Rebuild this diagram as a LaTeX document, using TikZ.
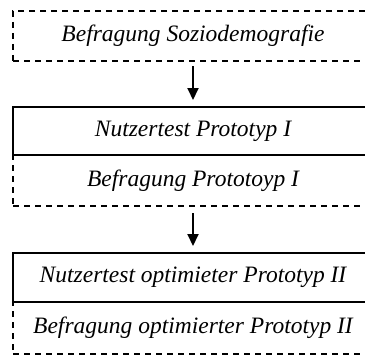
\documentclass[tikz,border=0pt]{standalone}
\usepackage{fontspec}
\setmainfont{Liberation Serif}
\usetikzlibrary{arrows.meta}
\begin{document}
\begin{tikzpicture}[x=1pt,y=-1pt,
  stage/.style={minimum width=360pt, inner sep=0pt, line width=2pt,
    font=\itshape\fontsize{23.5}{26}\selectfont},
  survey/.style={stage, draw, dash pattern=on 6pt off 5pt},
  usertest/.style={stage, draw},
  flow/.style={line width=2pt, -{Triangle[width=11pt,length=12pt]}}
]
\useasboundingbox (0,0) rectangle (365,356);
% questionnaire blocks (dashed frames)
\node[survey, minimum height=50pt] (socio) at (193,36) {Befragung Soziodemografie};
\node[survey, minimum height=51pt] (q1) at (193,180.5) {Befragung Prototoyp I};
\node[survey, minimum height=52pt] (q2) at (193,328) {Befragung optimierter Prototyp II};
% user test blocks (solid frames)
\node[usertest, fill=white, minimum height=48pt] (t1) at (193,131) {Nutzertest Prototyp I};
\node[usertest, fill=white, minimum height=49pt] (t2) at (193,277.5) {Nutzertest optimieter Prototyp II};
% sequence arrows
\draw[flow, shorten <=4pt, shorten >=6pt] (socio.south) -- (t1.north);
\draw[flow, shorten <=6pt, shorten >=6pt] (q1.south) -- (t2.north);
\end{tikzpicture}
\end{document}
